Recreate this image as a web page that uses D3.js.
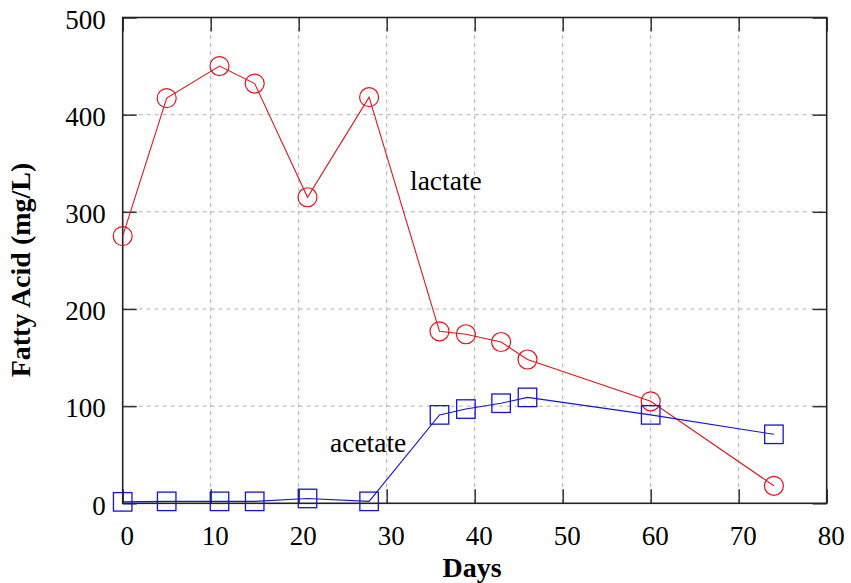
<!DOCTYPE html>
<html>
<head>
<meta charset="utf-8">
<script src="https://cdn.jsdelivr.net/npm/d3@7"></script>
<style>
	body { margin: 0; background: #fff; }
	text { font-family: "Liberation Serif", "Times New Roman", serif; }
</style>
</head>
<body>
<div id="chart"></div>
<script>
/* fatty acid over days, two series */
const days = [0, 5, 11, 15, 21, 28, 36, 39, 43, 46, 60, 74]
const lactate = [275, 417, 450, 432, 315, 418, 177, 174, 166, 148, 105, 18]
const acetate = [1.5, 2, 2, 2, 5, 2, 91, 97, 103, 109, 91, 71]
const xTicks = [0, 10, 20, 30, 40, 50, 60, 70, 80]
const yTicks = [0, 100, 200, 300, 400, 500]

const width = 851
const height = 583
const margin = {left: 122.7, right: 24.3, top: 17.5, bottom: 79.7}
const fontSize = 27

const svg = d3.select('#chart').append('svg')
	.attr('width', width)
	.attr('height', height)

const x = d3.scaleLinear().domain([0, 80]).range([margin.left, width - margin.right])
const y = d3.scaleLinear().domain([0, 500]).range([height - margin.bottom, margin.top])

const plotW = x(80) - x(0)
const plotH = y(0) - y(500)

//grid lines, dashed
const grid = svg.append('g')
grid.selectAll('.vg').data(xTicks.slice(1, -1)).enter().append('line')
	.attr('x1', d => x(d)).attr('x2', d => x(d))
	.attr('y1', y(0)).attr('y2', y(500))
	.attr('stroke', '#b0b0b0').attr('stroke-dasharray', '4,4')
grid.selectAll('.hg').data(yTicks.slice(1, -1)).enter().append('line')
	.attr('x1', x(0)).attr('x2', x(80))
	.attr('y1', d => y(d)).attr('y2', d => y(d))
	.attr('stroke', '#b0b0b0').attr('stroke-dasharray', '4,4')

//axes with inward ticks
const tickLen = 14
const bottomAxis = svg.append('g')
	.attr('transform', `translate(0,${y(0)})`)
	.call(d3.axisBottom(x).tickValues(xTicks).tickSize(-tickLen).tickPadding(23))
const topAxis = svg.append('g')
	.attr('transform', `translate(0,${y(500)})`)
	.call(d3.axisTop(x).tickValues(xTicks).tickSize(-tickLen).tickFormat(''))
const leftAxis = svg.append('g')
	.attr('transform', `translate(${x(0)},0)`)
	.call(d3.axisLeft(y).tickValues(yTicks).tickSize(-tickLen).tickPadding(17))
const rightAxis = svg.append('g')
	.attr('transform', `translate(${x(80)},0)`)
	.call(d3.axisRight(y).tickValues(yTicks).tickSize(-tickLen).tickFormat(''))

;[bottomAxis, topAxis, leftAxis, rightAxis].forEach(function(g) {
	g.select('.domain').remove()
	g.selectAll('.tick line').attr('stroke', '#333').attr('stroke-width', 1.5)
	g.selectAll('.tick text').attr('font-size', fontSize).attr('fill', '#000')
		.style('font-family', '"Liberation Serif", serif')
})
bottomAxis.selectAll('.tick text').attr('dx', 4)
leftAxis.selectAll('.tick text').attr('dy', '0.4em')

//frame
svg.append('rect')
	.attr('x', x(0)).attr('y', y(500))
	.attr('width', plotW).attr('height', plotH)
	.attr('fill', 'none').attr('stroke', '#222').attr('stroke-width', 1.6)

//series
const line = d3.line()
	.x(d => x(d[0]))
	.y(d => y(d[1]))

const red = '#e2141c'
const blue = '#1414d2'
const lacPts = days.map((d, i) => [d, lactate[i]])
const acePts = days.map((d, i) => [d, acetate[i]])

svg.append('path').datum(lacPts)
	.attr('d', line).attr('fill', 'none').attr('stroke', red).attr('stroke-width', 1.1)
svg.append('path').datum(acePts)
	.attr('d', line).attr('fill', 'none').attr('stroke', blue).attr('stroke-width', 1.1)

svg.selectAll('.lac').data(lacPts).enter().append('circle')
	.attr('cx', d => x(d[0])).attr('cy', d => y(d[1]))
	.attr('r', 9.5)
	.attr('fill', 'none').attr('stroke', red).attr('stroke-width', 1.2)

const sq = 18.5
svg.selectAll('.ace').data(acePts).enter().append('rect')
	.attr('x', d => x(d[0]) - sq / 2).attr('y', d => y(d[1]) - sq / 2)
	.attr('width', sq).attr('height', sq)
	.attr('fill', 'none').attr('stroke', blue).attr('stroke-width', 1.3)

//labels
svg.append('text')
	.attr('x', 410).attr('y', 190)
	.attr('font-size', 27.5)
	.text('lactate')
svg.append('text')
	.attr('x', 330).attr('y', 452)
	.attr('font-size', 27.5)
	.text('acetate')

svg.append('text')
	.attr('x', 472).attr('y', 577)
	.attr('text-anchor', 'middle')
	.attr('font-size', 28).attr('font-weight', 'bold')
	.text('Days')
svg.append('text')
	.attr('transform', 'translate(30,270) rotate(-90)')
	.attr('text-anchor', 'middle')
	.attr('font-size', 28).attr('font-weight', 'bold')
	.text('Fatty Acid (mg/L)')
</script>
</body>
</html>
